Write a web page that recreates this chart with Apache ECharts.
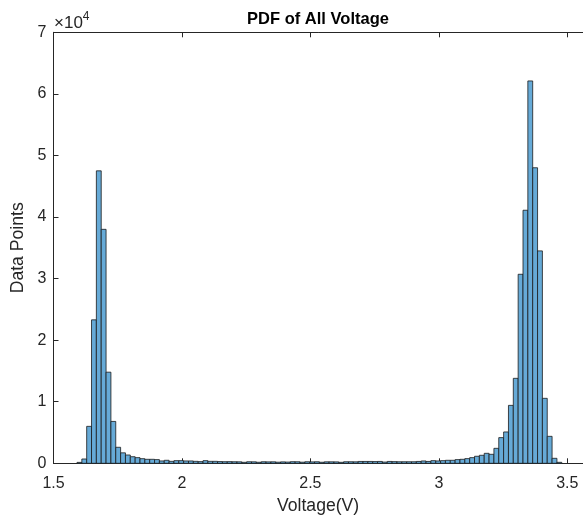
<!DOCTYPE html>
<html>
<head>
<meta charset="utf-8">
<script src="https://cdn.jsdelivr.net/npm/echarts@6/dist/echarts.min.js"></script>
<style>html,body{margin:0;padding:0;background:#fff}#c{width:583px;height:516px}</style>
</head>
<body>
<div id="c"></div>
<script>
// Histogram bins (Voltage, V)
var binStart = 1.5914;
var binWidth = 0.018872;
var counts = [150,700,6000,23300,47500,38000,14800,6800,2600,1700,
  1350,1070,920,750,650,650,600,380,490,320,
  430,430,380,380,320,270,430,320,320,280,
  260,270,250,240,160,250,240,170,250,230,
  240,180,230,200,260,250,180,250,230,250,
  170,240,240,230,160,250,250,240,300,300,
  300,280,300,200,300,270,250,250,250,250,
  300,380,300,430,380,430,490,490,600,650,
  760,920,1140,1300,1620,1460,2430,4170,5090,9410,
  13800,30700,41100,62100,48000,34500,10550,4380,810,160];
var xTicks = [1.5, 2, 2.5, 3, 3.5];
var yTicks = [0,1,2,3,4,5,6,7];
var yScale = 10000;

var data = counts.map(function(c, i){
  return [binStart + i*binWidth, binStart + (i+1)*binWidth, c];
});

var txt = '#262626';
var font = 'Liberation Sans, Arial, Helvetica, sans-serif';
var chart = echarts.init(document.getElementById('c'), null, {renderer:'canvas'});
chart.setOption({
  animation:false,
  backgroundColor:'#fff',
  title:{text:'PDF of All Voltage', left:313, top:6, textAlign:'center',
    textStyle:{fontFamily:font, fontSize:16.5, fontWeight:'bold', color:'#000'}},
  grid:{left:53.5, top:32.3, right:0.3, bottom:52.7, containLabel:false, outerBoundsMode:'none'},
  xAxis:[{
    type:'value', min:1.5, max:3.56, position:'bottom',
    interval:0.5,
    customValues: xTicks,
    name:'Voltage(V)', nameLocation:'middle', nameGap:34,
    nameTextStyle:{fontFamily:font, fontSize:17.6, color:txt},
    axisLine:{show:true, lineStyle:{color:txt, width:1}},
    axisTick:{show:true, inside:true, length:5, lineStyle:{color:txt}, customValues:xTicks},
    axisLabel:{show:true, fontFamily:font, fontSize:16, color:txt, margin:12,
      customValues:xTicks, formatter:function(v){return String(v);}},
    splitLine:{show:false}
  },{
    type:'value', min:1.5, max:3.56, position:'top',
    axisLine:{show:true, lineStyle:{color:txt, width:1}},
    axisTick:{show:true, inside:true, length:5, lineStyle:{color:txt}, customValues:xTicks},
    axisLabel:{show:false},
    splitLine:{show:false}
  }],
  yAxis:[{
    type:'value', min:0, max:70000, interval:10000,
    name:'Data Points', nameLocation:'middle', nameGap:25,
    nameTextStyle:{fontFamily:font, fontSize:17.6, color:txt},
    axisLine:{show:true, lineStyle:{color:txt, width:1}},
    axisTick:{show:true, inside:true, length:5, lineStyle:{color:txt}},
    axisLabel:{fontFamily:font, fontSize:16, color:txt, margin:7,
      formatter:function(v){return String(Math.round(v/yScale));}},
    splitLine:{show:false}
  }],
  graphic:[{
    type:'text', left:54, top:11,
    style:{
      text:'{a|×10}{b|4}',
      rich:{
        a:{fontFamily:font, fontSize:17, fill:txt, verticalAlign:'bottom'},
        b:{fontFamily:font, fontSize:12, fill:txt, verticalAlign:'top', padding:[0,0,9,0]}
      }
    }
  }],
  series:[{
    type:'custom',
    xAxisIndex:0, yAxisIndex:0,
    encode:{x:[0,1], y:2},
    data:data,
    renderItem:function(params, api){
      var p0 = api.coord([api.value(0), 0]);
      var p1 = api.coord([api.value(1), api.value(2)]);
      return {
        type:'rect',
        shape:{x:p0[0], y:p1[1], width:p1[0]-p0[0], height:p0[1]-p1[1]},
        style:{fill:'#66AAD7', stroke:'#1a1a1a', lineWidth:0.8}
      };
    }
  }]
});
</script>
</body>
</html>
